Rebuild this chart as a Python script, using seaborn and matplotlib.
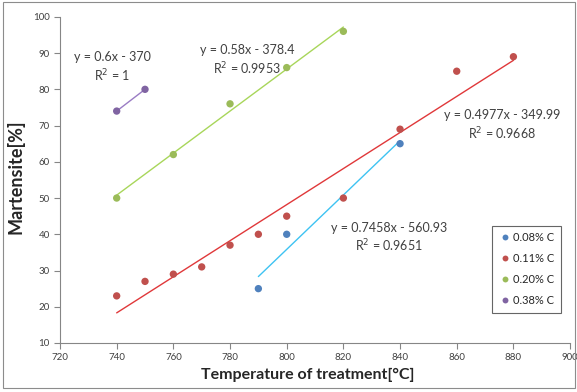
import numpy as np
import pandas as pd
import seaborn as sns
import matplotlib.pyplot as plt
from matplotlib.patches import Rectangle

# data
temp_008 = [790, 800, 840]
mart_008 = [25, 40, 65]
temp_011 = [740, 750, 760, 770, 780, 790, 800, 820, 840, 860, 880]
mart_011 = [23, 27, 29, 31, 37, 40, 45, 50, 69, 85, 89]
temp_020 = [740, 760, 780, 800, 820]
mart_020 = [50, 62, 76, 86, 96]
temp_038 = [740, 750]
mart_038 = [74, 80]

labels = ['0.08% C', '0.11% C', '0.20% C', '0.38% C']
point_colors = ['#4F81BD', '#C0504D', '#9BBB59', '#8064A2']
line_colors = ['#3EC3F2', '#E0383A', '#A8D65A', '#9A7CC4']
eq_texts = ['y = 0.7458x - 560.93\nR$^2$ = 0.9651',
            'y = 0.4977x - 349.99\nR$^2$ = 0.9668',
            'y = 0.58x - 378.4\nR$^2$ = 0.9953',
            'y = 0.6x - 370\nR$^2$ = 1']
eq_pos = [(836, 39), (876, 70), (786, 88), (738.5, 86)]

series = [(temp_008, mart_008), (temp_011, mart_011),
          (temp_020, mart_020), (temp_038, mart_038)]

df = pd.concat([pd.DataFrame({'T': t, 'M': m, 'grade': lab})
                for (t, m), lab in zip(series, labels)])

sns.set_style('white')
plt.rcParams['font.family'] = ['Lato', 'DejaVu Sans']
fig = plt.figure(figsize=(5.77, 3.92), dpi=100)
ax = fig.add_axes([0.104, 0.125, 0.884, 0.832])

# linear trendlines
for (t, m), c in zip(series, line_colors):
    k, b = np.polyfit(t, m, 1)
    xs = np.array([min(t), max(t)])
    ax.plot(xs, k * xs + b, color=c, linewidth=1.0, zorder=1)

sns.scatterplot(data=df, x='T', y='M', hue='grade', hue_order=labels,
                palette=dict(zip(labels, point_colors)), s=28,
                edgecolor='none', zorder=3, ax=ax)

for txt, (x, y) in zip(eq_texts, eq_pos):
    ax.text(x, y, txt, ha='center', va='center', fontsize=9,
            color='#404040', linespacing=1.3)

# axis limits and ticks
ax.set_xlim(720, 900)
ax.set_ylim(10, 100)
ax.set_xticks(np.arange(720, 901, 20))
ax.set_yticks(np.arange(10, 101, 10))
ax.tick_params(axis='both', labelsize=7, colors='#868686', labelcolor='#404040',
               length=4, width=0.8, direction='out', bottom=True, left=True)
for s in ['top', 'right']:
    ax.spines[s].set_visible(False)
for s in ['left', 'bottom']:
    ax.spines[s].set_color('#868686')
    ax.spines[s].set_linewidth(0.8)

ax.set_xlabel('Temperature of treatment[°C]', fontsize=11.5, fontweight='bold', labelpad=2)
ax.xaxis.set_label_coords(0.485, -0.075)
ax.set_ylabel('Martensite[%]', fontsize=13, fontweight='bold', labelpad=4)
ax.yaxis.set_label_coords(-0.07, 0.51)

# legend
leg = ax.legend(loc='lower right', bbox_to_anchor=(0.993, 0.075), fontsize=8,
                frameon=True, fancybox=False, handletextpad=0.1, handlelength=1.2,
                borderpad=0.6, labelspacing=0.9, markerscale=0.8, title=None)
leg.get_frame().set_edgecolor('#404040')
leg.get_frame().set_linewidth(0.8)

# outer chart border
fig.patches.append(Rectangle((0.006, 0.01), 0.99, 0.985, transform=fig.transFigure,
                             fill=False, edgecolor='#8C8C8C', linewidth=0.8))

fig.savefig('out.png', dpi=100)
